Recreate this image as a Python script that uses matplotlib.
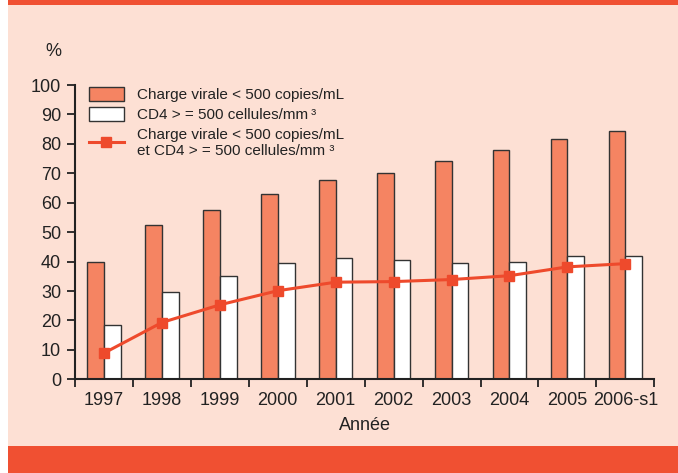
import matplotlib
matplotlib.use("Agg")
import matplotlib.pyplot as plt
import numpy as np
from matplotlib.patches import Rectangle

categories = ["1997", "1998", "1999", "2000", "2001", "2002", "2003", "2004", "2005", "2006-s1"]
charge_virale = [39.7, 52.4, 57.5, 63.0, 67.6, 70.1, 74.2, 78.0, 81.6, 84.5]
cd4 = [18.4, 29.6, 35.1, 39.4, 41.2, 40.6, 39.4, 39.8, 42.0, 42.0]
combined = [8.9, 19.3, 25.3, 30.1, 33.0, 33.2, 33.9, 35.2, 38.2, 39.3]

label_cv = "Charge virale < 500 copies/mL"
label_cd4 = "CD4 > = 500 cellules/mm\u2009\u00b3"
label_both = "Charge virale < 500 copies/mL\net CD4 > = 500 cellules/mm \u00b3"

BG = "#FDE0D4"
RED = "#F05032"
ORANGE = "#F58462"
LINE = "#EE4A2C"
EDGE = "#333333"
TXT = "#222222"

plt.rcParams['font.family'] = ['Liberation Sans', 'DejaVu Sans']

fig = plt.figure(figsize=(6.78, 4.73), dpi=100)
fig.patch.set_facecolor("white")
fig.add_artist(Rectangle((8/678, 0), 1 - 8/678, 1, transform=fig.transFigure, facecolor=BG, edgecolor="none", zorder=-10))
fig.add_artist(Rectangle((8/678, 1 - 5/473), 1 - 8/678, 5/473, transform=fig.transFigure, facecolor=RED, edgecolor="none", zorder=-9))
fig.add_artist(Rectangle((8/678, 0), 1 - 8/678, 27/473, transform=fig.transFigure, facecolor=RED, edgecolor="none", zorder=-9))

ax = fig.add_axes([75/678, (473 - 379.3)/473, (654.3 - 75)/678, 294.3/473])
ax.set_facecolor("none")

x = np.arange(len(categories))
w = 0.29
b1 = ax.bar(x - w/2, charge_virale, width=w, color=ORANGE, edgecolor=EDGE, linewidth=1.0, label=label_cv, zorder=2)
b2 = ax.bar(x + w/2, cd4, width=w, color="white", edgecolor=EDGE, linewidth=1.0, label=label_cd4, zorder=2)
l1, = ax.plot(x, combined, color=LINE, linewidth=2.2, marker="s", markersize=7, label=label_both, zorder=3)

ax.set_xlim(-0.5, len(categories) - 0.5)
ax.set_ylim(0, 100)
ax.set_yticks(np.arange(0, 101, 10))
ax.set_xticks(np.arange(-0.5, len(categories), 1.0))
ax.set_xticklabels([])
ax.set_xticks(x, minor=True)
ax.set_xticklabels(categories, minor=True)
ax.tick_params(axis="x", which="minor", length=0, labelsize=13, pad=9, colors=TXT)
ax.tick_params(axis="x", which="major", length=6, width=1.3, color=TXT, direction="out")
ax.tick_params(axis="y", length=6, width=1.3, color=TXT, labelsize=13, labelcolor=TXT, pad=4)
for s in ["top", "right"]:
    ax.spines[s].set_visible(False)
for s in ["left", "bottom"]:
    ax.spines[s].set_linewidth(1.5)
    ax.spines[s].set_color(TXT)

ax.set_xlabel("Année", fontsize=13, color=TXT, labelpad=6)
fig.text(53/678, 1 - 52/473, "%", fontsize=13, color=TXT, ha="center", va="center")

leg = ax.legend([b1, b2, l1], [label_cv, label_cd4, label_both],
                loc="upper left", bbox_to_anchor=(0.0, 1.04), frameon=False, fontsize=11,
                handlelength=2.3, handleheight=1.0, handletextpad=0.85, labelspacing=0.35, labelcolor=TXT)

fig.savefig("out.png", dpi=100, facecolor=fig.get_facecolor())
